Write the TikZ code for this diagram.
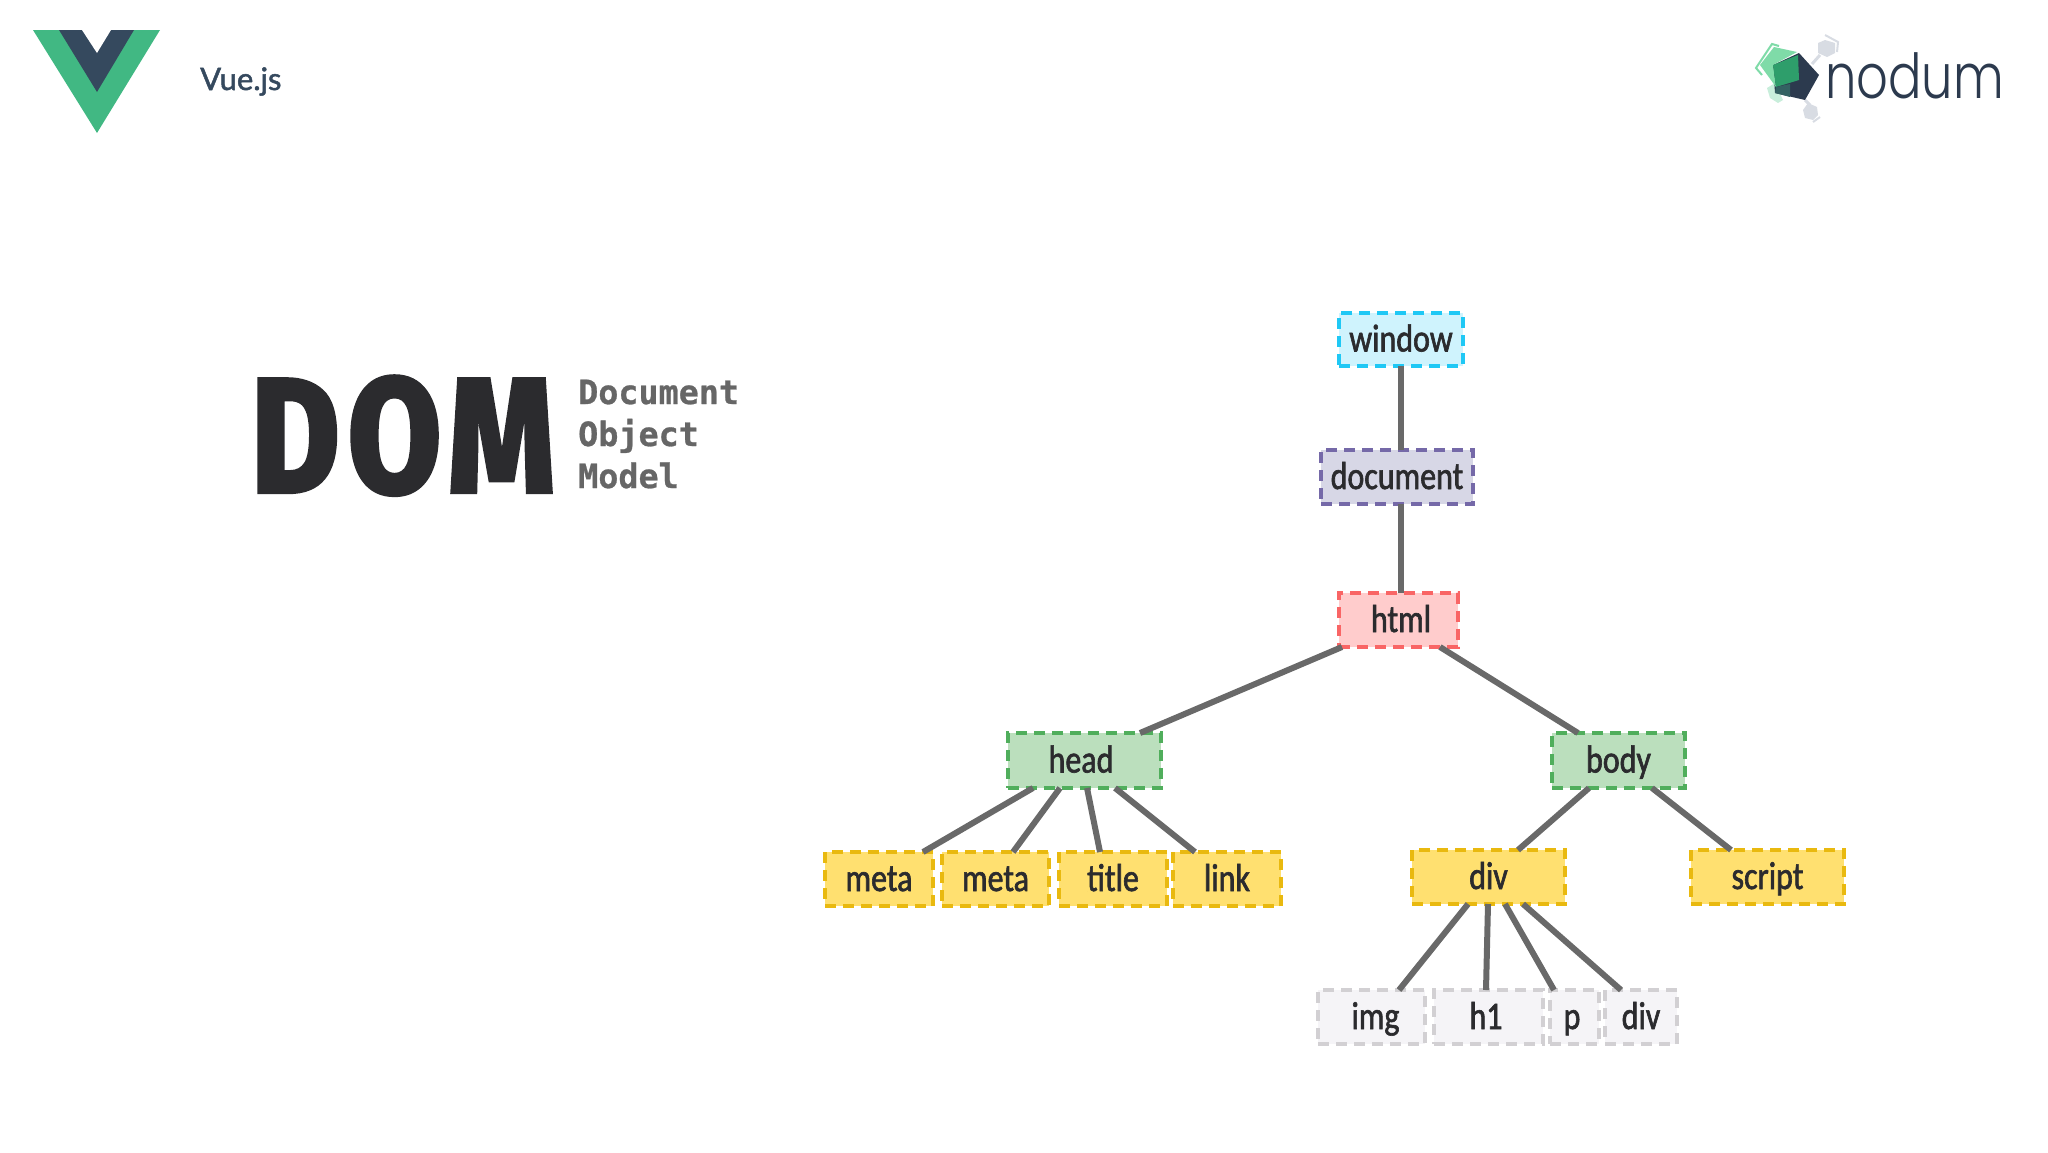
\documentclass[tikz,border=0pt]{standalone}
\usepackage{fontspec}
\usetikzlibrary{calc}
\setmainfont[FakeStretch=0.82,FakeBold=1.6]{Carlito}
\newfontfamily\domfont[FakeStretch=0.82,LetterSpace=5,FakeBold=1.4]{Fira Sans ExtraBold}
\newfontfamily\monofont[FakeBold=0.8]{DejaVu Sans Mono}
\newfontfamily\vuefont[FakeBold=1.6]{Lato}
\newfontfamily\nodumfont[FakeStretch=0.8]{Poppins Light}
\definecolor{inkc}{HTML}{2B2B2E}
\definecolor{linkc}{HTML}{696969}
\definecolor{vgreen}{HTML}{41B883}
\definecolor{vdark}{HTML}{35495E}
\definecolor{nddark}{HTML}{2C3A4E}
\definecolor{winds}{HTML}{1FC8F5}\definecolor{windf}{HTML}{CFF3FD}
\definecolor{docs}{HTML}{7569A8}\definecolor{docf}{HTML}{D7D7E6}
\definecolor{htms}{HTML}{F96565}\definecolor{htmf}{HTML}{FFCCCC}
\definecolor{grns}{HTML}{50AE5C}\definecolor{grnf}{HTML}{BBDFBD}
\definecolor{yels}{HTML}{E9B90F}\definecolor{yelf}{HTML}{FFE070}
\definecolor{grys}{HTML}{D2D0D3}\definecolor{gryf}{HTML}{F5F4F7}
\definecolor{hexg}{HTML}{D8DCE3}
\definecolor{mint}{HTML}{C8EEDB}
\definecolor{lgrn}{HTML}{7FDBA8}
\definecolor{dgrn}{HTML}{2E9E6B}
\tikzset{
  x=1pt,y=-1pt,
  box/.style={draw,line width=4pt,dash pattern=on 11pt off 7pt,inner sep=0pt,outer sep=0pt,
    anchor=north west,font=\fontsize{39}{39}\selectfont,text=inkc,align=center,text height=29pt,text depth=5pt},
  windowb/.style={box,draw=winds,fill=windf},
  docb/.style={box,draw=docs,fill=docf},
  htmlb/.style={box,draw=htms,fill=htmf},
  greenb/.style={box,draw=grns,fill=grnf},
  yellowb/.style={box,draw=yels,fill=yelf},
  greyb/.style={box,draw=grys,fill=gryf},
  tree/.style={draw=linkc,line width=6pt},
  monot/.style={anchor=base west,inner sep=0pt,text=black!60,font=\monofont\bfseries\fontsize{33.4}{33.4}\selectfont},
}
\newcommand{\tnode}[7]{% style, name, x1, y1, x2, y2, text
  \pgfmathsetlengthmacro{\tw}{#5-#3}\pgfmathsetlengthmacro{\th}{#6-#4}
  \node[#1,minimum width=\tw,minimum height=\th] (#2) at (#3,#4) {#7};}
\begin{document}
\begin{tikzpicture}
\useasboundingbox (0,0) rectangle (2048,1152);
% Vue logo
\fill[vgreen] (33,30) -- (160,30) -- (97,133) -- cycle;
\fill[vdark] (59,30) -- (134,30) -- (97,92) -- cycle;
\fill[white] (82,30) -- (111,30) -- (97,53) -- cycle;
\node[anchor=base west,inner sep=0pt,text=vdark,font=\vuefont\fontsize{31}{31}\selectfont] (vue) at (200,90) {Vue.js};
% nodum logo
\fill[hexg] (1818,43) -- (1825,40) -- (1835,43) -- (1835,53) -- (1827,57) -- (1818,53) -- cycle;
\draw[hexg,line width=2pt] (1825,35) -- (1838,42) -- (1837,52);
\draw[hexg,line width=3pt] (1812,64) -- (1820,55);
\fill[hexg] (1803,110) -- (1808,103) -- (1817,107) -- (1818,115) -- (1813,120) -- (1805,118) -- cycle;
\draw[hexg,line width=2pt] (1813,122) -- (1820,117);
\draw[hexg,line width=3pt] (1805,100) -- (1810,105);
\fill[mint] (1767,88) -- (1775,83) -- (1783,100) -- (1778,103) -- (1770,98) -- cycle;
\fill[nddark] (1799,53) -- (1819,75) -- (1805,100) -- (1775,93) -- (1773,65) -- cycle;
\fill[lgrn] (1760,65) -- (1774,47) -- (1797,52) -- (1773,65) -- (1776,87) -- cycle;
\fill[dgrn] (1773,65) -- (1798,55) -- (1799,80) -- (1776,87) -- cycle;
\fill[vdark!70!dgrn] (1776,87) -- (1790,84) -- (1790,97) -- (1775,93) -- cycle;
\draw[lgrn,line width=2pt] (1762,75) -- (1756,68) -- (1772,44) -- (1779,46);
\node[anchor=base west,inner sep=0pt,text=nddark,font=\nodumfont\fontsize{62}{62}\selectfont] (nodum) at (1825,98) {nodum};
% DOM title
\node[anchor=base west,inner sep=0pt,text=inkc,font=\domfont\fontsize{165}{165}\selectfont] (dom) at (251,493) {DOM};
\node[monot] (t1) at (578,404) {Document};
\node[monot] (t2) at (578,446) {Object};
\node[monot] (t3) at (578,488) {Model};
% tree
\tnode{windowb}{window}{1339}{313}{1463}{366}{window}
\tnode{docb}{document}{1321}{450}{1473}{504}{document}
\tnode{htmlb}{html}{1339}{593}{1458}{647}{\hspace*{5pt}html}
\tnode{greenb}{head}{1008}{733}{1161}{788}{head\hspace*{7pt}}
\tnode{greenb}{body}{1552}{733}{1685}{788}{body}
\tnode{yellowb}{metaa}{825}{852}{933}{906}{meta}
\tnode{yellowb}{metab}{942}{852}{1049}{906}{meta}
\tnode{yellowb}{title}{1059}{852}{1167}{906}{title}
\tnode{yellowb}{linkn}{1173}{852}{1281}{906}{link}
\tnode{yellowb}{diva}{1412}{850}{1565}{904}{div}
\tnode{yellowb}{script}{1691}{850}{1844}{904}{script}
\tnode{greyb}{img}{1318}{990}{1425}{1044}{\hspace*{8pt}img}
\tnode{greyb}{hone}{1434}{990}{1543}{1044}{h1\hspace*{5pt}}
\tnode{greyb}{pn}{1550}{990}{1599}{1044}{p\hspace*{5pt}}
\tnode{greyb}{divb}{1605}{990}{1677}{1044}{div}
% connectors
\draw[tree] (window.south) -- ([xshift=4pt]document.north);
\draw[tree] ([xshift=4pt]document.south) -- ([xshift=2.5pt]html.north);
\draw[tree] ([xshift=3pt]html.south west) -- ([xshift=-21pt]head.north east);
\draw[tree] ([xshift=-18pt]html.south east) -- ([xshift=26pt]body.north west);
\draw[tree] ([xshift=25pt]head.south west) -- ([xshift=-10pt]metaa.north east);
\draw[tree] ([xshift=52pt]head.south west) -- ([xshift=71pt]metab.north west);
\draw[tree] ([xshift=79pt]head.south west) -- ([xshift=41pt]title.north west);
\draw[tree] ([xshift=107pt]head.south west) -- ([xshift=22pt]linkn.north west);
\draw[tree] ([xshift=37pt]body.south west) -- ([xshift=106pt]diva.north west);
\draw[tree] ([xshift=-33pt]body.south east) -- ([xshift=40pt]script.north west);
\draw[tree] ([xshift=56pt]diva.south west) -- ([xshift=81pt]img.north west);
\draw[tree] ([xshift=76pt]diva.south west) -- ([xshift=52pt]hone.north west);
\draw[tree] ([xshift=93pt]diva.south west) -- ([xshift=4pt]pn.north west);
\draw[tree] ([xshift=111pt]diva.south west) -- ([xshift=16pt]divb.north west);
\end{tikzpicture}
\end{document}
